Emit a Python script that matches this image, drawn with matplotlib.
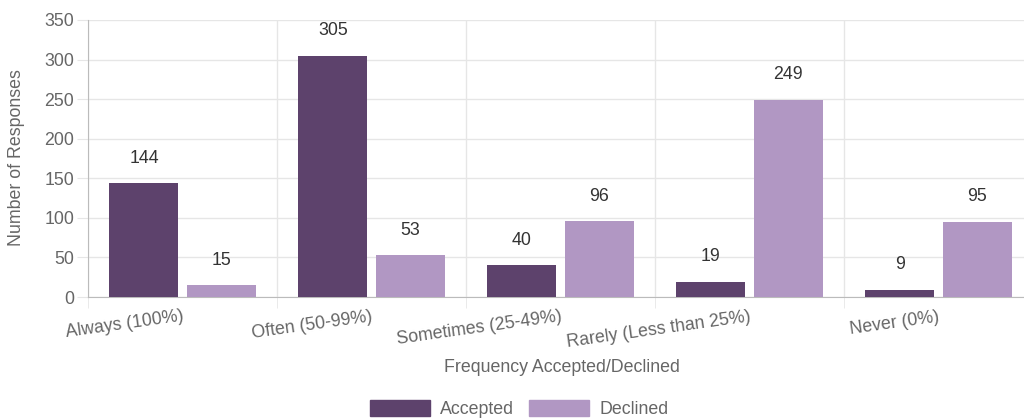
import matplotlib

matplotlib.use("Agg")
import matplotlib.pyplot as plt
import numpy as np
from matplotlib.patches import Patch

categories = ["Always (100%)", "Often (50-99%)", "Sometimes (25-49%)", "Rarely (Less than 25%)", "Never (0%)"]
accepted = [144, 305, 40, 19, 9]
declined = [15, 53, 96, 249, 95]
series_names = ["Accepted", "Declined"]

ACC_COLOR = "#5d426c"
DEC_COLOR = "#b197c3"
TEXT = "#666666"
GRID = "#e6e6e6"
FS = 12.8

plt.rcParams["font.family"] = ["Liberation Sans", "DejaVu Sans"]

fig = plt.figure(figsize=(10.24, 4.2), dpi=100)
ax = fig.add_axes([88 / 1024, 1 - 297 / 420, 945 / 1024, 277 / 420])

x = np.arange(len(categories))
width = 0.365
off = 0.204
bars_a = ax.bar(x - off, accepted, width, color=ACC_COLOR, zorder=3)
bars_d = ax.bar(x + off, declined, width, color=DEC_COLOR, zorder=3)

for bars, vals in ((bars_a, accepted), (bars_d, declined)):
    for b, v in zip(bars, vals):
        ax.annotate(str(v), (b.get_x() + b.get_width() / 2, v), xytext=(0, 18),
                    textcoords="offset points", ha="center", va="center",
                    fontsize=FS, color="#333333")

ax.set_xlim(-0.5, len(categories) - 0.5)
ax.set_ylim(0, 350)
ax.set_yticks(range(0, 351, 50))
ax.set_xticks(x)
ax.set_xticklabels(categories, rotation=8, ha="right", rotation_mode="anchor")
ax.set_xticks(np.arange(-0.5, len(categories), 1), minor=True)
ax.tick_params(axis="x", which="major", length=0, pad=8, labelsize=FS, labelcolor=TEXT)
ax.tick_params(axis="x", which="minor", length=8, color=GRID)
ax.tick_params(axis="y", length=8, color=GRID, labelsize=FS, labelcolor=TEXT, pad=2)

ax.grid(True, axis="y", color=GRID, linewidth=1, zorder=0)
ax.grid(True, axis="x", which="minor", color=GRID, linewidth=1, zorder=0)
for side in ("top", "right"):
    ax.spines[side].set_visible(False)
for side in ("left", "bottom"):
    ax.spines[side].set_color("#bbbbbb")

fig.text(17 / 1024, 1 - 158 / 420, "Number of Responses", rotation=90,
         ha="center", va="center", fontsize=FS, color=TEXT)
fig.text(562 / 1024, 1 - 368 / 420, "Frequency Accepted/Declined",
         ha="center", va="center", fontsize=FS, color=TEXT)

handles = [Patch(facecolor=ACC_COLOR, edgecolor=ACC_COLOR), Patch(facecolor=DEC_COLOR, edgecolor=DEC_COLOR)]
fig.legend(handles, series_names, loc="center", bbox_to_anchor=(519 / 1024, 1 - 409 / 420),
           ncol=2, frameon=False, fontsize=FS, labelcolor=TEXT,
           handlelength=3.4, handleheight=1.0, handletextpad=0.55, columnspacing=0.85)

fig.savefig("out.png", dpi=100)
